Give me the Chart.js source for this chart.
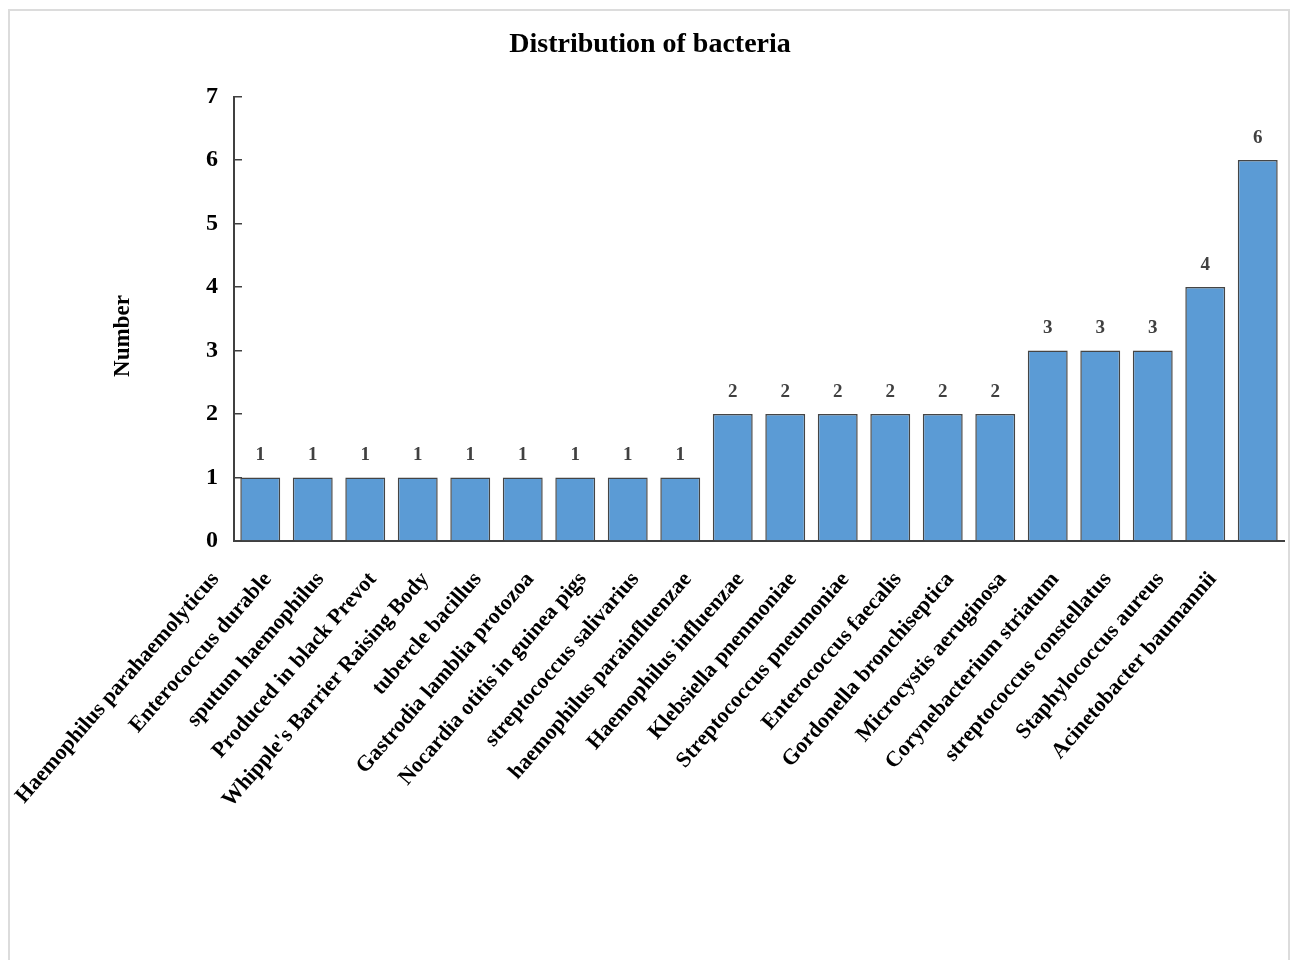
<!DOCTYPE html>
<html>
<head>
<meta charset="utf-8">
<script src="https://cdn.jsdelivr.net/npm/chart.js@4/dist/chart.umd.min.js"></script>
<style>
  html, body { margin: 0; padding: 0; background: #ffffff; overflow: hidden; }
  #frame { position: absolute; left: 8px; top: 9px; width: 1278px; height: 1000px; border: 2px solid #dcdcdc; }
  #c { position: absolute; left: 0; top: 0; }
</style>
</head>
<body>
<div id="frame"></div>
<canvas id="c" width="1292" height="960"></canvas>
<script>
const categories = [
  "Haemophilus parahaemolyticus",
  "Enterococcus durable",
  "sputum haemophilus",
  "Produced in black Prevot",
  "Whipple's Barrier Raising Body",
  "tubercle bacillus",
  "Gastrodia lamblia protozoa",
  "Nocardia otitis in guinea pigs",
  "streptococcus salivarius",
  "haemophilus parainfluenzae",
  "Haemophilus influenzae",
  "Klebsiella pnenmoniae",
  "Streptococcus pneumoniae",
  "Enterococcus faecalis",
  "Gordonella bronchiseptica",
  "Microcystis aeruginosa",
  "Corynebacterium striatum",
  "streptococcus constellatus",
  "Staphylococcus aureus",
  "Acinetobacter baumannii"
];
const values = [1, 1, 1, 1, 1, 1, 1, 1, 1, 2, 2, 2, 2, 2, 2, 3, 3, 3, 4, 6];
const yTicks = [0, 1, 2, 3, 4, 5, 6, 7];
const chartTitle = "Distribution of bacteria";
const yTitle = "Number";

const FONT = '"Liberation Serif", "Times New Roman", serif';

const valueLabels = {
  id: 'valueLabels',
  afterDatasetsDraw(chart) {
    const ctx = chart.ctx;
    const meta = chart.getDatasetMeta(0);
    ctx.save();
    ctx.font = 'bold 19px ' + FONT;
    ctx.fillStyle = '#404040';
    ctx.textAlign = 'center';
    ctx.textBaseline = 'middle';
    meta.data.forEach((bar, i) => {
      ctx.fillText(String(values[i]), bar.x, bar.y - 22);
    });
    ctx.restore();
  }
};

new Chart(document.getElementById('c'), {
  type: 'bar',
  data: {
    labels: categories,
    datasets: [{
      data: values,
      backgroundColor: '#5B9BD5',
      borderColor: '#454545',
      borderWidth: 1.5,
      categoryPercentage: 1.0,
      barPercentage: 0.76
    }]
  },
  options: {
    responsive: false,
    devicePixelRatio: 1,
    animation: false,
    layout: { padding: { left: 8, right: 0, top: 0, bottom: 0 } },
    plugins: {
      legend: { display: false },
      tooltip: { enabled: false },
      title: {
        display: true,
        text: chartTitle,
        color: '#000000',
        font: { family: FONT, size: 28, weight: 'bold' },
        padding: { top: 28, bottom: 35 }
      }
    },
    scales: {
      x: {
        grid: { display: false, drawTicks: false },
        border: { display: true, color: '#404040', width: 2 },
        ticks: {
          autoSkip: false,
          minRotation: 49,
          maxRotation: 49,
          padding: 26,
          labelOffset: -45,
          color: '#000000',
          font: { family: FONT, size: 22, weight: 'bold' }
        },
        afterFit(scale) {
          scale.height = 419;
          scale.paddingLeft = 0;
          scale.paddingRight = 8;
        }
      },
      y: {
        min: 0,
        max: 7,
        afterBuildTicks(scale) { scale.ticks = yTicks.map(v => ({ value: v })); },
        grid: {
          display: true,
          drawOnChartArea: false,
          drawTicks: true,
          tickLength: -8,
          color: '#404040',
          lineWidth: 1.5
        },
        border: { display: true, color: '#404040', width: 2 },
        ticks: {
          padding: 24,
          color: '#000000',
          font: { family: FONT, size: 24, weight: 'bold' }
        },
        title: {
          display: true,
          text: yTitle + '      ',
          color: '#000000',
          font: { family: FONT, size: 23, weight: 'bold' },
          padding: { top: 101, bottom: 0 }
        },
        afterFit(scale) { scale.width = 226; }
      }
    }
  },
  plugins: [valueLabels]
});
</script>
</body>
</html>
